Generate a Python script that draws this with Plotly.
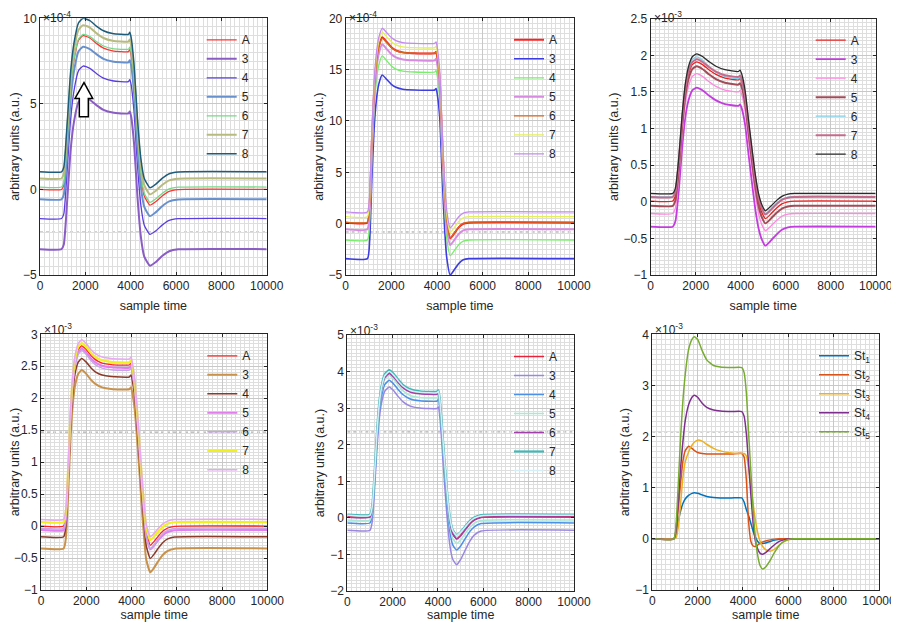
import plotly.graph_objects as go

# ---------------- DATA ----------------
# Panel 1 (x1e-4)
t1 = [0, 950, 1050, 1200, 1350, 1500, 1700, 1900, 2200, 2500, 2800, 3200, 3900, 3960, 4020, 4150, 4300, 4450, 4600, 4850, 5100, 5400, 5700, 6100, 10000]
p1_A = [0, 0, 0.27, 2.88, 5.84, 7.55, 8.72, 8.99, 8.85, 8.52, 8.26, 8.10, 8.05, 8.17, 7.87, 6.26, 3.12, 0.78, -0.38, -0.92, -0.72, -0.37, -0.11, -0.01, 0]
p1_3 = [-3.49, -3.49, -3.22, -0.65, 2.28, 3.96, 5.11, 5.38, 5.24, 4.91, 4.65, 4.49, 4.44, 4.56, 4.26, 2.66, -0.46, -2.77, -3.93, -4.46, -4.25, -3.88, -3.61, -3.50, -3.49]
p1_4 = [-1.70, -1.70, -1.43, 1.15, 4.09, 5.78, 6.94, 7.21, 7.07, 6.76, 6.50, 6.35, 6.30, 6.42, 6.12, 4.51, 1.39, -0.93, -2.09, -2.63, -2.43, -2.07, -1.81, -1.71, -1.70]
p1_5 = [-0.58, -0.58, -0.31, 2.27, 5.22, 6.91, 8.07, 8.34, 8.20, 7.89, 7.63, 7.48, 7.43, 7.55, 7.25, 5.63, 2.49, 0.15, -1.02, -1.56, -1.34, -0.97, -0.70, -0.59, -0.58]
p1_6 = [0.14, 0.14, 0.41, 2.99, 5.94, 7.63, 8.79, 9.06, 8.93, 8.63, 8.38, 8.23, 8.19, 8.31, 8.01, 6.40, 3.27, 0.94, -0.22, -0.76, -0.56, -0.22, 0.03, 0.13, 0.14]
p1_7 = [0.64, 0.64, 0.91, 3.51, 6.46, 8.17, 9.33, 9.60, 9.46, 9.12, 8.85, 8.69, 8.64, 8.76, 8.46, 6.85, 3.73, 1.41, 0.25, -0.29, -0.09, 0.27, 0.53, 0.63, 0.64]
p1_8 = [1.03, 1.03, 1.30, 3.90, 6.86, 8.56, 9.73, 10.0, 9.86, 9.53, 9.27, 9.11, 9.06, 9.18, 8.88, 7.27, 4.13, 1.80, 0.64, 0.10, 0.30, 0.66, 0.92, 1.02, 1.03]

# Panel 2 (x1e-4)
t2 = [0, 950, 1050, 1150, 1250, 1350, 1450, 1600, 1800, 2000, 2200, 2500, 3000, 3900, 3960, 4020, 4120, 4220, 4320, 4420, 4580, 4750, 4950, 5150, 5400, 10000]
p2_A = [0.1, 0.1, 1.91, 8.22, 13.10, 15.80, 17.25, 18.15, 17.69, 17.19, 16.88, 16.68, 16.6, 16.6, 16.75, 16.06, 13.90, 8.49, 3.62, 0.37, -1.43, -0.97, -0.36, -0.01, 0.1, 0.1]
p2_3 = [-3.41, -3.41, -1.62, 4.64, 9.47, 12.15, 13.59, 14.48, 14.04, 13.57, 13.28, 13.09, 13.02, 13.02, 13.17, 12.48, 10.32, 4.91, 0.05, -3.20, -5.0, -4.52, -3.89, -3.52, -3.41, -3.41]
p2_4 = [-1.59, -1.59, 0.20, 6.47, 11.31, 14.00, 15.43, 16.33, 15.86, 15.36, 15.05, 14.85, 14.77, 14.77, 14.92, 14.23, 12.09, 6.72, 1.89, -1.33, -3.12, -2.66, -2.05, -1.70, -1.59, -1.59]
p2_5 = [-0.55, -0.55, 1.25, 7.56, 12.42, 15.13, 16.57, 17.47, 17.00, 16.50, 16.19, 15.99, 15.91, 15.91, 16.06, 15.37, 13.21, 7.81, 2.96, -0.28, -2.08, -1.62, -1.01, -0.66, -0.55, -0.55]
p2_6 = [0.15, 0.15, 1.94, 8.21, 13.04, 15.72, 17.16, 18.05, 17.62, 17.15, 16.86, 16.67, 16.6, 16.6, 16.75, 16.06, 13.90, 8.51, 3.65, 0.42, -1.38, -0.92, -0.31, 0.04, 0.15, 0.15]
p2_7 = [0.68, 0.68, 2.48, 8.76, 13.61, 16.31, 17.74, 18.64, 18.19, 17.71, 17.41, 17.22, 17.14, 17.14, 17.29, 16.60, 14.44, 9.04, 4.17, 0.93, -0.87, -0.40, 0.22, 0.57, 0.68, 0.68]
p2_8 = [1.14, 1.14, 2.93, 9.19, 14.02, 16.70, 18.14, 19.03, 18.59, 18.12, 17.82, 17.63, 17.56, 17.56, 17.71, 17.02, 14.86, 9.47, 4.62, 1.39, -0.41, 0.06, 0.67, 1.03, 1.14, 1.14]

# Panel 3 (x1e-3)
t3 = [0, 980, 1100, 1250, 1400, 1550, 1700, 1850, 2050, 2300, 2600, 2900, 3300, 3900, 3970, 4050, 4200, 4350, 4500, 4650, 4800, 4950, 5100, 5350, 5600, 5850, 6100, 6400, 10000]
p3_A = [0.01, 0.01, 0.086, 0.504, 1.093, 1.530, 1.758, 1.872, 1.910, 1.873, 1.800, 1.739, 1.690, 1.665, 1.685, 1.627, 1.400, 1.002, 0.623, 0.263, -0.003, -0.154, -0.230, -0.163, -0.086, -0.026, 0.0, 0.01, 0.01]
p3_3 = [-0.34, -0.34, -0.264, 0.154, 0.743, 1.180, 1.408, 1.522, 1.560, 1.523, 1.448, 1.385, 1.335, 1.310, 1.330, 1.272, 1.043, 0.642, 0.260, -0.103, -0.371, -0.524, -0.600, -0.527, -0.444, -0.379, -0.350, -0.34, -0.34]
p3_4 = [-0.16, -0.16, -0.084, 0.337, 0.929, 1.368, 1.597, 1.712, 1.750, 1.713, 1.638, 1.575, 1.525, 1.500, 1.520, 1.462, 1.235, 0.837, 0.458, 0.098, -0.168, -0.319, -0.395, -0.329, -0.254, -0.195, -0.169, -0.16, -0.16]
p3_5 = [-0.055, -0.055, 0.021, 0.440, 1.031, 1.469, 1.698, 1.812, 1.850, 1.813, 1.738, 1.675, 1.625, 1.600, 1.620, 1.562, 1.335, 0.937, 0.558, 0.198, -0.068, -0.219, -0.295, -0.228, -0.151, -0.091, -0.065, -0.055, -0.055]
p3_6 = [0.075, 0.075, 0.151, 0.570, 1.161, 1.599, 1.828, 1.942, 1.980, 1.935, 1.845, 1.770, 1.710, 1.680, 1.700, 1.643, 1.422, 1.034, 0.665, 0.315, 0.056, -0.091, -0.165, -0.098, -0.021, 0.039, 0.065, 0.075, 0.075]
p3_7 = [0.065, 0.065, 0.140, 0.554, 1.137, 1.569, 1.795, 1.907, 1.945, 1.909, 1.837, 1.777, 1.729, 1.705, 1.725, 1.667, 1.442, 1.047, 0.671, 0.314, 0.051, -0.100, -0.175, -0.108, -0.031, 0.029, 0.055, 0.065, 0.065]
p3_8 = [0.114, 0.114, 0.190, 0.609, 1.200, 1.638, 1.867, 1.981, 2.019, 1.983, 1.911, 1.851, 1.803, 1.779, 1.799, 1.741, 1.513, 1.113, 0.733, 0.372, 0.105, -0.047, -0.123, -0.057, 0.019, 0.078, 0.105, 0.114, 0.114]

# Panel 4 (x1e-3)
t4 = [0, 1000, 1100, 1200, 1300, 1400, 1500, 1650, 1800, 2000, 2200, 2400, 2700, 3100, 3900, 3980, 4050, 4150, 4250, 4350, 4450, 4550, 4650, 4830, 5000, 5200, 5400, 5600, 5900, 10000]
p4_A = [0, 0, 0.169, 0.846, 1.692, 2.256, 2.566, 2.764, 2.82, 2.76, 2.67, 2.604, 2.55, 2.526, 2.52, 2.55, 2.435, 2.182, 1.730, 1.251, 0.715, 0.264, -0.103, -0.30, -0.24, -0.15, -0.075, -0.03, -0.003, 0]
p4_3 = [-0.35, -0.35, -0.183, 0.487, 1.324, 1.882, 2.189, 2.384, 2.44, 2.38, 2.29, 2.224, 2.17, 2.146, 2.14, 2.17, 2.054, 1.796, 1.338, 0.851, 0.306, -0.152, -0.524, -0.725, -0.65, -0.538, -0.444, -0.388, -0.354, -0.35]
p4_4 = [-0.167, -0.167, 0.0, 0.670, 1.507, 2.065, 2.372, 2.567, 2.623, 2.565, 2.478, 2.414, 2.362, 2.339, 2.333, 2.363, 2.248, 1.992, 1.538, 1.055, 0.515, 0.061, -0.308, -0.507, -0.439, -0.337, -0.252, -0.201, -0.170, -0.167]
p4_5 = [-0.063, -0.063, 0.107, 0.789, 1.641, 2.209, 2.521, 2.720, 2.777, 2.717, 2.627, 2.561, 2.507, 2.483, 2.477, 2.507, 2.392, 2.136, 1.682, 1.199, 0.659, 0.205, -0.164, -0.363, -0.303, -0.213, -0.138, -0.093, -0.066, -0.063]
p4_6 = [-0.035, -0.035, 0.132, 0.799, 1.633, 2.189, 2.495, 2.689, 2.745, 2.684, 2.593, 2.525, 2.471, 2.446, 2.44, 2.47, 2.356, 2.105, 1.657, 1.182, 0.651, 0.204, -0.159, -0.355, -0.291, -0.195, -0.115, -0.067, -0.038, -0.035]
p4_7 = [0.063, 0.063, 0.231, 0.903, 1.743, 2.303, 2.611, 2.807, 2.863, 2.803, 2.713, 2.647, 2.593, 2.569, 2.563, 2.593, 2.480, 2.229, 1.785, 1.312, 0.784, 0.339, -0.022, -0.217, -0.161, -0.077, -0.007, 0.035, 0.060, 0.063]
p4_8 = [0.104, 0.104, 0.273, 0.947, 1.790, 2.352, 2.661, 2.858, 2.914, 2.854, 2.764, 2.698, 2.644, 2.620, 2.614, 2.644, 2.531, 2.280, 1.836, 1.363, 0.835, 0.390, 0.029, -0.166, -0.112, -0.031, 0.037, 0.077, 0.101, 0.104]

# Panel 5 (x1e-3)
t5 = [0, 1000, 1100, 1200, 1300, 1400, 1500, 1650, 1850, 2050, 2250, 2450, 2750, 3200, 3950, 4020, 4080, 4150, 4250, 4350, 4450, 4550, 4650, 4820, 5000, 5200, 5400, 5600, 5900, 10000]
p5_A = [0.03, 0.03, 0.266, 1.133, 2.197, 3.024, 3.497, 3.852, 3.97, 3.867, 3.714, 3.582, 3.468, 3.411, 3.40, 3.44, 3.202, 2.685, 1.812, 1.018, 0.303, -0.173, -0.431, -0.57, -0.48, -0.318, -0.162, -0.054, 0.018, 0.03]
p5_3 = [-0.34, -0.34, -0.105, 0.758, 1.816, 2.639, 3.110, 3.462, 3.58, 3.474, 3.315, 3.179, 3.061, 3.002, 2.99, 3.03, 2.777, 2.221, 1.282, 0.428, -0.341, -0.853, -1.131, -1.28, -1.139, -0.885, -0.641, -0.472, -0.359, -0.34]
p5_4 = [-0.14, -0.14, 0.094, 0.952, 2.005, 2.824, 3.292, 3.643, 3.76, 3.657, 3.504, 3.372, 3.258, 3.201, 3.19, 3.23, 2.987, 2.457, 1.562, 0.748, 0.015, -0.473, -0.738, -0.88, -0.769, -0.569, -0.377, -0.244, -0.155, -0.14]
p5_5 = [-0.06, -0.06, 0.178, 1.049, 2.118, 2.950, 3.425, 3.781, 3.90, 3.788, 3.621, 3.478, 3.354, 3.292, 3.28, 3.32, 3.081, 2.564, 1.688, 0.892, 0.176, -0.302, -0.561, -0.70, -0.604, -0.431, -0.265, -0.15, -0.073, -0.06]
p5_6 = [0.02, 0.02, 0.256, 1.120, 2.182, 3.007, 3.478, 3.832, 3.95, 3.847, 3.694, 3.562, 3.448, 3.391, 3.38, 3.42, 3.182, 2.667, 1.796, 1.004, 0.291, -0.184, -0.441, -0.58, -0.49, -0.328, -0.172, -0.064, 0.008, 0.02]
p5_7 = [0.09, 0.09, 0.327, 1.196, 2.263, 3.092, 3.566, 3.922, 4.04, 3.934, 3.775, 3.639, 3.521, 3.462, 3.45, 3.49, 3.254, 2.744, 1.882, 1.098, 0.392, -0.078, -0.333, -0.47, -0.386, -0.235, -0.089, 0.012, 0.079, 0.09]
p5_8 = [0.07, 0.07, 0.306, 1.170, 2.232, 3.057, 3.528, 3.882, 4.00, 3.896, 3.739, 3.606, 3.490, 3.432, 3.42, 3.46, 3.225, 2.718, 1.860, 1.080, 0.378, -0.09, -0.343, -0.48, -0.398, -0.249, -0.106, -0.007, 0.059, 0.07]

# Panel 6 (x1e-3)
t6 = [0, 950, 1050, 1150, 1250, 1350, 1450, 1600, 1750, 1850, 2000, 2200, 2400, 2700, 3000, 3500, 3950, 4050, 4150, 4250, 4350, 4450, 4550, 4650, 4750, 4870, 5000, 5200, 5400, 5600, 5800, 6000, 6300, 10000]
p6_St1 = [0, 0, 0.06, 0.35, 0.55, 0.69, 0.78, 0.85, 0.89, 0.90, 0.89, 0.86, 0.83, 0.81, 0.80, 0.80, 0.80, 0.72, 0.57, 0.45, 0.30, 0.15, 0.03, -0.05, -0.09, -0.09, -0.08, -0.05, -0.025, -0.01, 0, 0, 0, 0]
p6_St2 = [0, 0, 0.15, 0.62, 1.10, 1.52, 1.72, 1.81, 1.77, 1.73, 1.69, 1.67, 1.66, 1.66, 1.66, 1.66, 1.67, 1.60, 1.15, 0.32, -0.05, -0.14, -0.15, -0.12, -0.09, -0.06, -0.04, -0.02, -0.005, 0, 0, 0, 0, 0]
p6_St3 = [0, 0, 0.02, 0.25, 0.70, 1.20, 1.50, 1.70, 1.83, 1.89, 1.93, 1.91, 1.85, 1.77, 1.72, 1.68, 1.67, 1.67, 1.62, 1.40, 1.05, 0.68, 0.36, 0.12, -0.04, -0.15, -0.21, -0.24, -0.20, -0.12, -0.06, -0.02, 0, 0]
p6_St4 = [0, 0, 0.20, 0.75, 1.40, 1.90, 2.30, 2.62, 2.77, 2.81, 2.77, 2.65, 2.57, 2.52, 2.50, 2.49, 2.49, 2.40, 2.05, 1.45, 0.85, 0.30, -0.05, -0.20, -0.28, -0.30, -0.27, -0.19, -0.11, -0.05, -0.02, -0.005, 0, 0]
p6_St5 = [0, 0, 0.30, 1.10, 2.00, 2.70, 3.20, 3.70, 3.90, 3.95, 3.90, 3.68, 3.50, 3.39, 3.36, 3.35, 3.35, 3.25, 2.85, 2.05, 1.30, 0.55, 0.02, -0.33, -0.52, -0.59, -0.55, -0.42, -0.26, -0.13, -0.05, -0.015, 0, 0]

labels7 = ["A", "3", "4", "5", "6", "7", "8"]
labels_st = ["St<sub>1</sub>", "St<sub>2</sub>", "St<sub>3</sub>", "St<sub>4</sub>", "St<sub>5</sub>"]
x_ticks = [0, 2000, 4000, 6000, 8000, 10000]
exponents = ["-4", "-4", "-3", "-3", "-3", "-3"]
arrow_x = [1735, 1735, 1544, 1941, 2324, 2132, 2132]
arrow_y = [4.25, 5.32, 5.32, 6.24, 5.32, 5.32, 4.25]

# ---------------- STYLE ----------------
FONT = "Liberation Sans, Arial, sans-serif"
TXT = "#262626"

panels = [
    dict(t=t1, ys=[p1_A, p1_3, p1_4, p1_5, p1_6, p1_7, p1_8], names=labels7,
         colors=["#ff3535", "#8a5cc4", "#5a3ee0", "#6890cc", "#76d98a", "#b8bb7e", "#1f5c7a"],
         widths=[1.3, 2.0, 1.3, 2.0, 1.3, 2.0, 1.5],
         yr=[-5, 10], dtick=5, minor=0.5, xd=[40, 266.7], yd=[18.3, 275], art=-2.49, xts=8),
    dict(t=t2, ys=[p2_A, p2_3, p2_4, p2_5, p2_6, p2_7, p2_8], names=labels7,
         colors=["#ff2020", "#3c3ce0", "#78ee6a", "#d88ae0", "#d2691e", "#e4f05a", "#c58af0"],
         widths=[2.0, 1.6, 1.3, 2.0, 1.3, 1.3, 1.3],
         yr=[-5, 20], dtick=5, minor=0.5, xd=[345.7, 574], yd=[18.3, 275], art=-0.81, xts=8),
    dict(t=t3, ys=[p3_A, p3_3, p3_4, p3_5, p3_6, p3_7, p3_8], names=labels7,
         colors=["#e82020", "#c43ce0", "#ff88e0", "#a24c5a", "#80d0e8", "#c66a8c", "#2a2a2a"],
         widths=[1.3, 1.8, 1.3, 2.0, 1.3, 2.0, 1.3],
         yr=[-1, 2.5], dtick=0.5, minor=0.05, xd=[650.7, 875.7], yd=[18.7, 275], art=None, xts=8),
    dict(t=t4, ys=[p4_A, p4_3, p4_4, p4_5, p4_6, p4_7, p4_8], names=labels7,
         colors=["#ff2020", "#c8924c", "#8b3a2a", "#e47cf0", "#c8a4e4", "#f0f020", "#e8a8f4"],
         widths=[1.3, 2.0, 1.5, 2.0, 1.5, 2.2, 1.5],
         yr=[-1, 3], dtick=0.5, minor=0.05, xd=[41, 267.3], yd=[334.3, 590], art=1.47, xts=3),
    dict(t=t5, ys=[p5_A, p5_3, p5_4, p5_5, p5_6, p5_7, p5_8], names=labels7,
         colors=["#e8203a", "#9a88e0", "#4a90e8", "#a8e8d4", "#a040a8", "#40b8b8", "#d4eef8"],
         widths=[1.5, 1.5, 1.5, 1.5, 1.5, 2.2, 1.5],
         yr=[-2, 5], dtick=1, minor=0.1, xd=[347.3, 574], yd=[335, 591], art=2.35, xts=3),
    dict(t=t6, ys=[p6_St1, p6_St2, p6_St3, p6_St4, p6_St5], names=labels_st,
         colors=["#0072BD", "#D95319", "#EDB120", "#7E2F8E", "#77AC30"],
         widths=[1.5, 1.5, 1.5, 1.5, 1.5],
         yr=[-1, 4], dtick=1, minor=0.1, xd=[652.3, 879], yd=[334.3, 590], art=2.09, xts=3),
]

# The page body has an 8px default margin; size the figure so that it fills
# the rest of the 899x630 window (no scrollbars).
OFF = 8
W, H = 899 - OFF, 630 - 2 * OFF


def px_x(v):
    return (v - OFF) / W


def px_y(v):
    return 1 - (v - OFF) / H


fig = go.Figure()
layout = dict(width=W, height=H, margin=dict(l=0, r=0, t=0, b=0),
              paper_bgcolor="white", plot_bgcolor="white",
              font=dict(family=FONT, size=12, color=TXT), showlegend=True)
shapes, annotations = [], []

for i, p in enumerate(panels):
    k = i + 1
    sfx = "" if k == 1 else str(k)
    xa, ya = "x" + sfx, "y" + sfx
    lg = "legend" + sfx
    for name, y, c, w in zip(p["names"], p["ys"], p["colors"], p["widths"]):
        fig.add_trace(go.Scatter(x=p["t"], y=y, name=name, mode="lines",
                                 line=dict(color=c, width=w, shape="spline", smoothing=0.5),
                                 xaxis=xa, yaxis=ya, legend=lg, hoverinfo="skip"))
    xd = [px_x(p["xd"][0]), px_x(p["xd"][1])]
    yd = [px_y(p["yd"][1]), px_y(p["yd"][0])]
    common = dict(showline=True, linecolor=TXT, linewidth=1, mirror="allticks",
                  ticks="inside", ticklen=3, tickcolor=TXT, tickwidth=1,
                  tickfont=dict(size=12, color=TXT, family=FONT),
                  ticklabeloverflow="allow",
                  showgrid=True, gridcolor="#c8c8c8", gridwidth=1, zeroline=False,
                  automargin=False, fixedrange=True)
    layout["xaxis" + sfx] = dict(common, domain=xd, anchor=ya, range=[0, 10000],
                                 tickvals=x_ticks, ticktext=[str(v) for v in x_ticks],
                                 minor=dict(dtick=200, tick0=0, showgrid=True, gridcolor="#dedede", gridwidth=1),
                                 title=dict(text="sample time", font=dict(size=12.5, color=TXT), standoff=p["xts"]))
    layout["yaxis" + sfx] = dict(common, domain=yd, anchor=xa, range=p["yr"], dtick=p["dtick"], tick0=0,
                                 minor=dict(dtick=p["minor"], tick0=0, showgrid=True, gridcolor="#dedede", gridwidth=1),
                                 title=dict(text="arbitrary units (a.u.)", font=dict(size=12.5, color=TXT), standoff=2))
    leg_top = p["yd"][0] + 7
    layout[lg] = dict(x=px_x(p["xd"][1] - 65), y=px_y(leg_top), xanchor="left", yanchor="top",
                      bgcolor="rgba(0,0,0,0)", borderwidth=0, font=dict(size=12, color=TXT, family=FONT),
                      itemwidth=30, tracegroupgap=0)
    annotations.append(dict(xref="paper", yref="paper", x=xd[0] + 1 / W, y=px_y(max(p["yd"][0] - 15, 6.5)),
                            xanchor="left", yanchor="top", showarrow=False,
                            text="\u00d710<sup>" + exponents[i] + "</sup>",
                            font=dict(size=12, color=TXT, family=FONT)))
    if p["art"] is not None:
        shapes.append(dict(type="line", xref=xa, yref=ya, x0=0, x1=10000, y0=p["art"], y1=p["art"],
                           line=dict(color="#9a9a9a", width=1, dash="dot"), layer="below"))

# hollow arrow in panel 1
path = "M " + " L ".join(f"{x},{y}" for x, y in zip(arrow_x, arrow_y)) + " Z"
shapes.append(dict(type="path", xref="x", yref="y", path=path,
                   fillcolor="white", line=dict(color="black", width=1.5), layer="above"))

layout["shapes"] = shapes
layout["annotations"] = annotations
fig.update_layout(**layout)
fig.write_html("out.html")
